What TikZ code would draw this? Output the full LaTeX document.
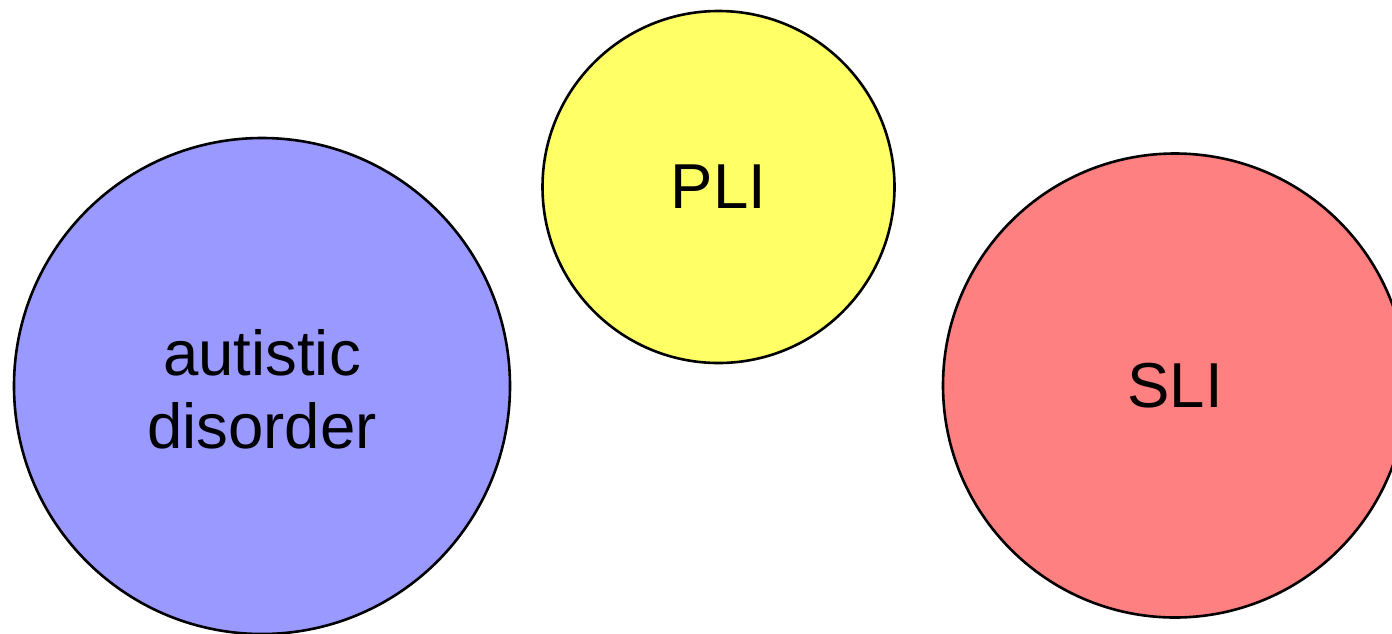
\documentclass[tikz,border=0pt]{standalone}
\usepackage{fontspec}
\setmainfont{Liberation Sans}
\definecolor{autblue}{RGB}{153,153,255}
\definecolor{pliyellow}{RGB}{255,255,102}
\definecolor{slired}{RGB}{255,128,128}
\tikzset{
  group/.style={draw=black, line width=2.6pt},
  grouplabel/.style={align=center, font=\fontsize{63.5}{73}\selectfont, inner sep=0pt}
}
\begin{document}
\begin{tikzpicture}[x=1pt, y=-1pt]
  \useasboundingbox (0,0) rectangle (1392,633);
  \clip (0,0) rectangle (1392,633);
  % the three groups
  \draw[group, fill=autblue] (262,386) circle[radius=248pt];
  \draw[group, fill=pliyellow] (718.5,187) circle[radius=176pt];
  \draw[group, fill=slired] (1175,385.5) circle[radius=232pt];
  % labels
  \node[grouplabel] (aut) at (262,389) {autistic\\disorder};
  \node[grouplabel] (pli) at (718.5,187) {PLI};
  \node[grouplabel] (sli) at (1175,386) {SLI};
\end{tikzpicture}
\end{document}
